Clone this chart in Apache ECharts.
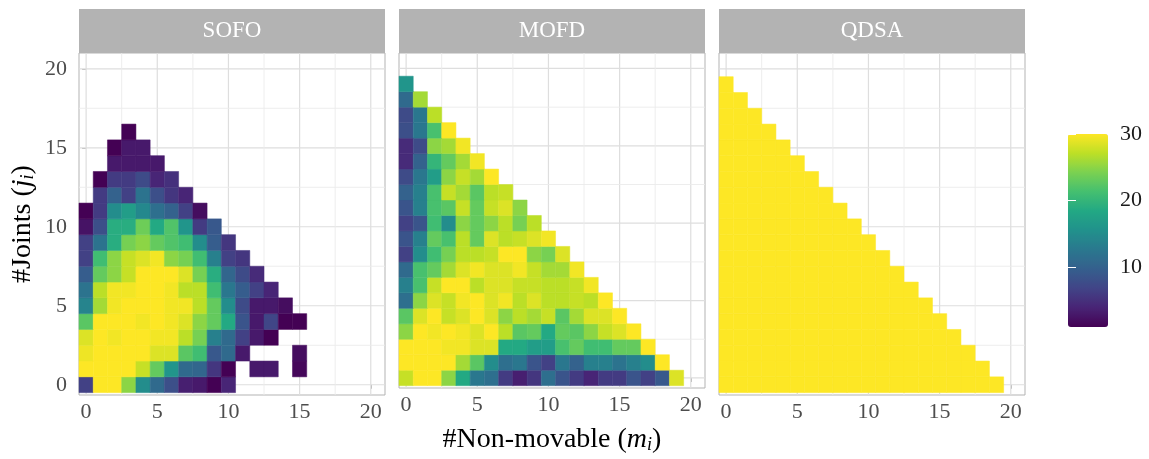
<!DOCTYPE html>
<html>
<head>
<meta charset="utf-8">
<script src="https://cdn.jsdelivr.net/npm/echarts@6/dist/echarts.min.js"></script>
<style>
  html, body { margin: 0; padding: 0; background: #fff; }
  #chart { width: 1149px; height: 459px; }
</style>
</head>
<body>
<div id="chart"></div>
<script>
const panelNames = ['SOFO', 'MOFD', 'QDSA'];
const tickValues = [0, 5, 10, 15, 20];
const minorBreaks = [2.5, 7.5, 12.5, 17.5];
const legendTicks = [10, 20, 30];

// one row per #Joints (j = 0, 1, 2 ...), position in row = #Non-movable (m)
const sofoRows = [
  [6.5, 30, 30, 25, 15, 11, 8, 3.5, 3, 1, 4],
  [30, 30, 30, 30, 27.5, 23, 16, 11, 10.5, 5.5, 1, null, 3, 3, null, 1.5],
  [29.3, 30, 30, 30, 30, 28.5, 28.5, 22.5, 21, 9, 11, 3, null, null, null, 2],
  [28.5, 30, 29.5, 30, 30, 29.5, 29.5, 27, 24, 13.5, 11, 6.5, 3, 1],
  [22.5, 30, 30, 30, 29.5, 30, 29.5, 28.5, 25, 23, 18.5, 8.5, 3, 7, 1, 1],
  [14, 26, 29.5, 30, 30, 30, 29.5, 29.5, 27, 23, 15, 7.5, 3, 3, 2],
  [12, 27, 29.5, 29.5, 30, 30, 29.5, 27, 27, 21, 12.5, 9.5, 6.5, 4],
  [9.5, 23, 25, 27.5, 30, 30, 30, 28.5, 24, 19, 10.5, 7.5, 4.5],
  [6.5, 21, 25, 27.5, 28.5, 29.5, 25, 24, 21, 13.5, 6.5, 5.5],
  [6.5, 12, 19, 24, 25, 23, 22, 21, 15, 9.5, 5.5],
  [2.5, 8, 19, 19, 23.5, 18.5, 22, 16, 6, 9],
  [1, 6, 15, 17, 14.5, 11.5, 10, 6.5, 2],
  [null, 6, 10, 6.5, 12, 8, 5.5, 4],
  [null, 1, 6, 6, 7.5, 4, 5],
  [null, null, 3, 3, 3, 3],
  [null, null, 1, 3, 3],
  [null, null, null, 1]
];

const mofdRows = [
  [27.5, 30, 30, 25, 18.5, 12.5, 11.5, 6, 3.5, 5.5, 11.5, 8.5, 6, 4, 6, 6, 8.5, 6.5, 9, 28.5],
  [30, 30, 30, 30, 26, 22.5, 15, 11.5, 12.5, 8.5, 6.5, 12.5, 10, 13.5, 13.5, 12, 13.5, 15, 30],
  [30, 30, 30, 29.5, 29.5, 28.5, 28.5, 18.5, 18.5, 17, 17, 21.5, 23, 21, 21, 23, 23, 30],
  [25, 30, 29.5, 30, 29.5, 28.5, 30, 27, 22.5, 23, 18.5, 23, 22.5, 25, 27.5, 28.5, 30],
  [22.5, 28.5, 30, 27.5, 28.5, 30, 28.5, 25, 27, 26, 27.5, 22.5, 26, 28.5, 28.5, 30],
  [11.5, 25, 28.5, 27.5, 29.5, 30, 28.5, 29.5, 27, 28.5, 27, 27, 27.5, 27, 30],
  [13.5, 21.5, 27.5, 30, 30, 27, 28.5, 28.5, 27.5, 27.5, 27, 27, 27.5, 29.5],
  [11, 21.5, 23, 26, 28.5, 29.5, 28.5, 28.5, 29.5, 27.5, 26, 26, 29.5],
  [6.5, 15, 21, 24, 27, 27, 27.5, 30, 30, 25, 24, 28.5],
  [8.5, 13.5, 23, 21.5, 27, 23, 28.5, 27, 27.5, 28.5, 29.5],
  [6.5, 8.5, 21, 15, 25, 23, 25, 27, 24, 27],
  [8.5, 13.5, 21.5, 22.5, 27.5, 23, 27.5, 28.5, 25],
  [10, 13.5, 21.5, 27.5, 26, 22.5, 27, 27.5],
  [7.5, 12.5, 17, 25, 27.5, 26, 30],
  [4.5, 10, 20, 23, 26, 29.5],
  [4.5, 7.5, 25, 26, 29.5],
  [8, 12.5, 21.5, 30],
  [7.5, 12.5, 27],
  [11, 26],
  [16]
];

const qdsaRows = [
  [30, 30, 30, 30, 30, 30, 30, 30, 30, 30, 30, 30, 30, 30, 30, 30, 30, 30, 30, 30],
  [30, 30, 30, 30, 30, 30, 30, 30, 30, 30, 30, 30, 30, 30, 30, 30, 30, 30, 30],
  [30, 30, 30, 30, 30, 30, 30, 30, 30, 30, 30, 30, 30, 30, 30, 30, 30, 30],
  [30, 30, 30, 30, 30, 30, 30, 30, 30, 30, 30, 30, 30, 30, 30, 30, 30],
  [30, 30, 30, 30, 30, 30, 30, 30, 30, 30, 30, 30, 30, 30, 30, 30],
  [30, 30, 30, 30, 30, 30, 30, 30, 30, 30, 30, 30, 30, 30, 30],
  [30, 30, 30, 30, 30, 30, 30, 30, 30, 30, 30, 30, 30, 30],
  [30, 30, 30, 30, 30, 30, 30, 30, 30, 30, 30, 30, 30],
  [30, 30, 30, 30, 30, 30, 30, 30, 30, 30, 30, 30],
  [30, 30, 30, 30, 30, 30, 30, 30, 30, 30, 30],
  [30, 30, 30, 30, 30, 30, 30, 30, 30, 30],
  [30, 30, 30, 30, 30, 30, 30, 30, 30],
  [30, 30, 30, 30, 30, 30, 30, 30],
  [30, 30, 30, 30, 30, 30, 30],
  [30, 30, 30, 30, 30, 30],
  [30, 30, 30, 30, 30],
  [30, 30, 30, 30],
  [30, 30, 30],
  [30, 30],
  [30]
];

const X_MIN = -0.5, X_MAX = 21;
const Y_MIN = -0.65, Y_MAX = 21;
const FONT = "'Liberation Serif', 'DejaVu Serif', serif";
const viridis = ['#440154', '#482475', '#414487', '#355f8d', '#2a788e', '#21918c',
                 '#22a884', '#44bf70', '#7ad151', '#bddf26', '#fde725'];

function toCells(rows) {
  const out = [];
  rows.forEach((row, j) => row.forEach((v, m) => {
    if (v != null) out.push([m, j, v]);
  }));
  return out;
}

function renderTile(params, api) {
  const m = api.value(0), j = api.value(1);
  const p0 = api.coord([m - 0.5, j + 0.5]);
  const p1 = api.coord([m + 0.5, j - 0.5]);
  const c = api.visual('color');
  return {
    type: 'rect',
    shape: { x: p0[0], y: p0[1], width: p1[0] - p0[0], height: p1[1] - p0[1] },
    style: { fill: c, stroke: c, lineWidth: 0.5 }
  };
}

function renderGridLine(params, api) {
  const v = api.value(0);
  const major = api.value(1) === 1;
  const style = { stroke: major ? '#dedede' : '#ebebeb', lineWidth: major ? 1.2 : 0.9 };
  const a = api.coord([v, Y_MIN]), b = api.coord([v, Y_MAX]);
  const c = api.coord([X_MIN, v]), d = api.coord([X_MAX, v]);
  return {
    type: 'group',
    children: [
      { type: 'line', shape: { x1: a[0], y1: a[1], x2: b[0], y2: b[1] }, style },
      { type: 'line', shape: { x1: c[0], y1: c[1], x2: d[0], y2: d[1] }, style }
    ]
  };
}

const titleRich = {
  n: { fontSize: 28, fontFamily: FONT, color: '#000' },
  i: { fontSize: 28, fontFamily: FONT, fontStyle: 'italic', color: '#000' },
  s: { fontSize: 18, fontFamily: FONT, fontStyle: 'italic', color: '#000',
       verticalAlign: 'bottom', lineHeight: 16 }
};

const panelRows = [sofoRows, mofdRows, qdsaRows];
const gridLineData = tickValues.map(v => [v, 1]).concat(minorBreaks.map(v => [v, 0]));

const grids = [], xAxes = [], yAxes = [], series = [], graphics = [];
const tileSeriesIdx = [];
panelNames.forEach((name, i) => {
  const left = 79 + 320 * i;
  grids.push({ left: left, top: 53, width: 306, height: 342, show: true,
               borderColor: '#b3b3b3', borderWidth: 1, backgroundColor: '#fff' });
  xAxes.push({
    type: 'value', gridIndex: i, min: X_MIN, max: X_MAX,
    axisLine: { show: false }, splitLine: { show: false },
    axisTick: { show: true, length: 4, lineStyle: { color: '#b3b3b3' }, customValues: tickValues },
    axisLabel: { customValues: tickValues, fontSize: 22, color: '#4d4d4d', fontFamily: FONT, margin: 6 },
    name: i === 1 ? '{n|#Non-movable (}{i|m}{s|i}{n|)}' : '',
    nameLocation: 'middle', nameGap: 38,
    nameTextStyle: { rich: titleRich }
  });
  yAxes.push({
    type: 'value', gridIndex: i, min: Y_MIN, max: Y_MAX,
    axisLine: { show: false }, splitLine: { show: false },
    axisTick: { show: i === 0, length: 4, lineStyle: { color: '#b3b3b3' }, customValues: tickValues },
    axisLabel: { show: i === 0, customValues: tickValues, fontSize: 22, color: '#4d4d4d',
                 fontFamily: FONT, margin: 12 },
    name: i === 0 ? '{n|#Joints (}{i|j}{s|i}{n|)}' : '',
    nameLocation: 'middle', nameGap: 42,
    nameTextStyle: { rich: titleRich }
  });
  series.push({
    type: 'custom', xAxisIndex: i, yAxisIndex: i, silent: true, z: 1,
    renderItem: renderGridLine, data: gridLineData
  });
  tileSeriesIdx.push(series.length);
  series.push({
    type: 'custom', name: name, xAxisIndex: i, yAxisIndex: i, z: 2,
    renderItem: renderTile, encode: { x: 0, y: 1 },
    data: toCells(panelRows[i])
  });
  graphics.push({
    type: 'rect', left: left, top: 9, shape: { width: 306, height: 44 },
    style: { fill: '#b3b3b3' }
  });
  graphics.push({
    type: 'text', x: left + 153, y: 31,
    style: { text: name, fill: '#fff', fontSize: 23, fontFamily: FONT,
             textAlign: 'center', textVerticalAlign: 'middle', verticalAlign: 'middle' }
  });
});

// colour bar labels and white ticks
grids.push({ left: 1068, top: 134, width: 40, height: 193 });
xAxes.push({ type: 'value', gridIndex: 3, min: 0, max: 1, show: false });
yAxes.push({
  type: 'value', gridIndex: 3, min: 1, max: 30, position: 'right', z: 10,
  axisLine: { show: false }, splitLine: { show: false },
  axisTick: { show: true, inside: true, length: 8, lineStyle: { color: '#fff' }, customValues: legendTicks },
  axisLabel: { customValues: legendTicks, fontSize: 22, color: '#1a1a1a', fontFamily: FONT, margin: 12 }
});
yAxes.push({
  type: 'value', gridIndex: 3, min: 1, max: 30, position: 'left', z: 10,
  axisLine: { show: false }, splitLine: { show: false },
  axisTick: { show: true, inside: true, length: 8, lineStyle: { color: '#fff' }, customValues: legendTicks },
  axisLabel: { show: false }
});

const chart = echarts.init(document.getElementById('chart'));
chart.setOption({
  animation: false,
  backgroundColor: '#fff',
  grid: grids,
  xAxis: xAxes,
  yAxis: yAxes,
  visualMap: {
    type: 'continuous', min: 1, max: 30, dimension: 2, seriesIndex: tileSeriesIdx,
    calculable: false, orient: 'vertical', left: 1068, top: 134, z: 2,
    itemWidth: 40, itemHeight: 193, padding: 0, text: null, showLabel: false,
    inRange: { color: viridis }
  },
  graphic: graphics,
  series: series
});
</script>
</body>
</html>
